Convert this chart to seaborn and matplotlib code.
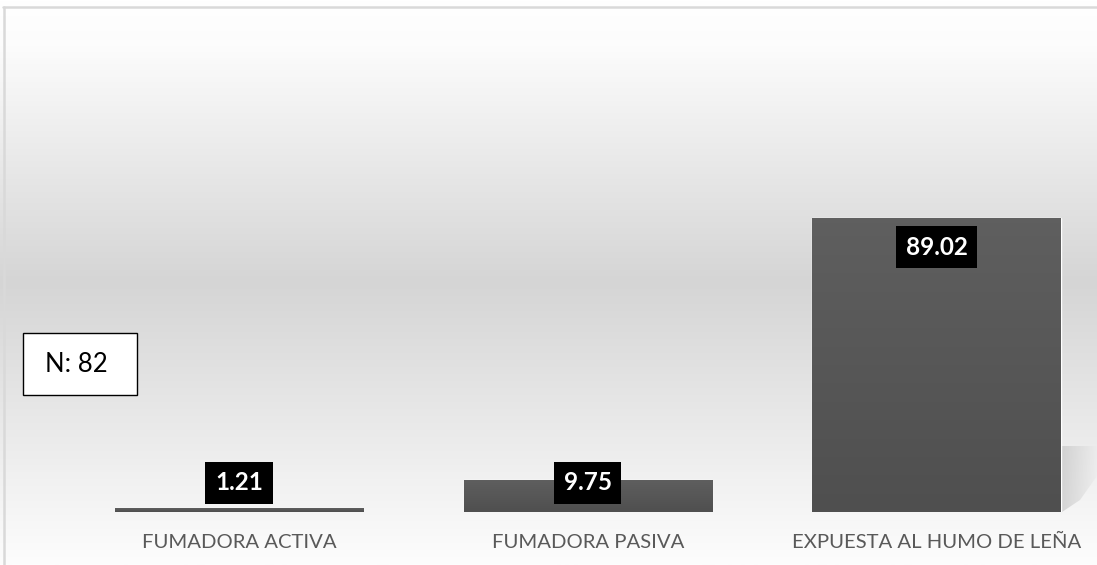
import numpy as np
import pandas as pd
import matplotlib
matplotlib.use("Agg")
import matplotlib.pyplot as plt
from matplotlib.patches import Rectangle, Polygon
from matplotlib.colors import LinearSegmentedColormap
import seaborn as sns

categories = ["FUMADORA ACTIVA", "FUMADORA PASIVA", "EXPUESTA AL HUMO DE LEÑA"]
values = [1.21, 9.75, 89.02]
n_label = "N: 82"

sns.set_theme(style="white")
plt.rcParams["font.family"] = ["Lato", "DejaVu Sans"]

W, H = 1097, 565
fig = plt.figure(figsize=(W / 100, H / 100), dpi=100)
fig.patch.set_facecolor("white")

def fx(x):
    return x / W

def fy(y):
    return 1 - y / H

# background gradient
bg = fig.add_axes([0, 0, 1, 1], zorder=-5)
grad_cmap = LinearSegmentedColormap.from_list(
    "bg", [(0.0, "#ffffff"), (0.08, "#fcfcfc"), (0.5, "#d5d5d5"), (1.0, "#fdfdfd")])
bg.imshow(np.linspace(0, 1, 256).reshape(-1, 1), aspect="auto", cmap=grad_cmap,
          extent=[0, 1, 0, 1], origin="upper")
bg.set_axis_off()

# shadow to the right of the tallest bar (soft)
shadow_cmap = LinearSegmentedColormap.from_list("sh", ["#ececec", "#c0c0c0"])
sh_poly = Polygon([(fx(1062), fy(446)), (fx(1097), fy(446)), (fx(1097), fy(476)),
                   (fx(1080), fy(500)), (fx(1062), fy(512))],
                  closed=True, transform=bg.transAxes, fc="none", ec="none")
bg.add_patch(sh_poly)
sh_img = bg.imshow(np.linspace(1, 0.3, 64).reshape(1, -1), aspect="auto", cmap=shadow_cmap,
                   extent=[fx(1062), 1, fy(512), fy(446)], origin="upper", alpha=0.6,
                   zorder=2)
sh_img.set_clip_path(sh_poly)
bg.set_xlim(0, 1)
bg.set_ylim(0, 1)

# main axes: bottom at bar baseline (pixel y=512)
base_px = 512
px_per_unit_y = 3.30
ax = fig.add_axes([0, fy(base_px), 1, base_px / H], zorder=1)
ax.patch.set_alpha(0)

df = pd.DataFrame({"cat": categories, "val": values})
sns.barplot(data=df, x="cat", y="val", color="#595959", width=0.712,
            saturation=1, ax=ax, zorder=2)

cat0_px, cat_step_px = 239.0, 348.75
xmin = -cat0_px / cat_step_px

# bar gradient fill
bar_cmap = LinearSegmentedColormap.from_list("bar", ["#4f4f4f", "#5f5f5f"])
for p in ax.patches:
    x0, y0 = p.get_x(), p.get_y()
    w, h = p.get_width(), p.get_height()
    im = ax.imshow(np.linspace(0, 1, 64).reshape(-1, 1), cmap=bar_cmap, aspect="auto",
                   extent=[x0, x0 + w, y0, y0 + h], origin="lower", zorder=3)
    im.set_clip_path(p)
ax.set_xlim(xmin, xmin + W / cat_step_px)
ax.set_ylim(0, base_px / px_per_unit_y)

for s in ax.spines.values():
    s.set_visible(False)
ax.set_yticks([])
ax.set_xlabel("")
ax.set_ylabel("")
ax.tick_params(axis="x", length=0, pad=16, labelsize=14.6, labelcolor="#595959")

# value labels
for i, v in enumerate(values):
    ypos = max(v - 8.8, 8.8)
    ax.text(i, ypos, f"{v:.2f}", ha="center", va="center", color="white",
            fontsize=17.5, fontweight="bold", zorder=5,
            bbox=dict(boxstyle="square,pad=0.4", fc="black", ec="none"))

# N box
nbox = Rectangle((fx(23), fy(395)), fx(137) - fx(23), fy(333) - fy(395),
                 transform=fig.transFigure, fc="white", ec="black", lw=1.0, zorder=6)
fig.patches.append(nbox)
fig.text(fx(45), fy(364), n_label, ha="left", va="center", fontsize=18.5,
         color="black", zorder=7)

# chart frame lines (top and left)
fig.add_artist(plt.Line2D([fx(3), 1], [fy(6.5), fy(6.5)], transform=fig.transFigure,
                          color="#d9d9d9", lw=1.8))
fig.add_artist(plt.Line2D([fx(3.5), fx(3.5)], [fy(6.5), 0], transform=fig.transFigure,
                          color="#d9d9d9", lw=1.8))

fig.savefig("out.png", dpi=100)
